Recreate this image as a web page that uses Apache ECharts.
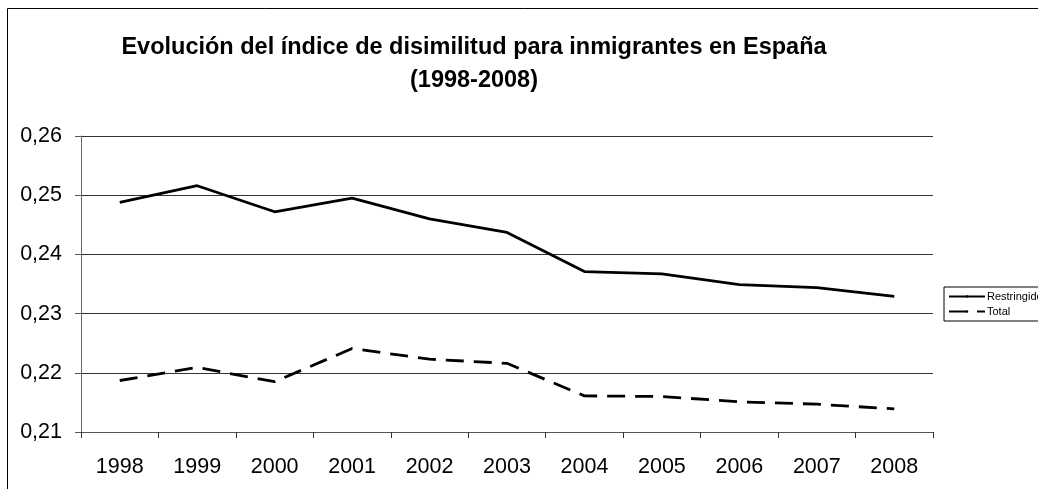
<!DOCTYPE html>
<html>
<head>
<meta charset="utf-8">
<script src="https://cdn.jsdelivr.net/npm/echarts@6/dist/echarts.min.js"></script>
<style>
  html, body { margin: 0; padding: 0; background: #fff; }
  #chart { width: 1038px; height: 489px; }
</style>
</head>
<body>
<div id="chart"></div>
<script>
// Años del periodo analizado
const years = ['1998', '1999', '2000', '2001', '2002', '2003', '2004', '2005', '2006', '2007', '2008'];
// Índice de disimilitud, definición restringida
const restringido = [0.2488, 0.2516, 0.2472, 0.2495, 0.2460, 0.2437, 0.2371, 0.2367, 0.2349, 0.2344, 0.2329];
// Índice de disimilitud, total de inmigrantes
const total = [0.2187, 0.2209, 0.2185, 0.2241, 0.2223, 0.2216, 0.2161, 0.2160, 0.2151, 0.2147, 0.2139];
// Marcas del eje vertical
const yTicks = { min: 0.21, max: 0.26, step: 0.01 };

const FONT = '"Liberation Sans", Arial, sans-serif';
const chart = echarts.init(document.getElementById('chart'), null, { renderer: 'canvas' });

chart.setOption({
  animation: false,
  backgroundColor: '#fff',
  textStyle: { fontFamily: FONT },
  title: {
    text: 'Evolución del índice de disimilitud para inmigrantes en España\n(1998-2008)',
    left: 469,
    textAlign: 'center',
    top: 26,
    textStyle: { fontFamily: FONT, fontSize: 23.5, fontWeight: 'bold', color: '#000', lineHeight: 33 }
  },
  graphic: [{
    type: 'rect',
    shape: { x: 7.5, y: 8.5, width: 1200, height: 1000 },
    style: { fill: 'none', stroke: '#000', lineWidth: 1 },
    silent: true,
    z: 0
  }],
  legend: {
    orient: 'vertical',
    left: 944,
    top: 287,
    padding: [4, 8, 4, 4],
    itemGap: 4,
    itemWidth: 36,
    itemHeight: 3,
    borderColor: '#000',
    borderWidth: 1,
    backgroundColor: '#fff',
    textStyle: { fontFamily: FONT, fontSize: 11, color: '#000', padding: [0, 0, 0, -3] },
    data: ['Restringido', 'Total']
  },
  grid: { left: 81, right: 105, top: 136, bottom: 57, containLabel: false },
  xAxis: {
    type: 'category',
    data: years,
    boundaryGap: true,
    axisLine: { lineStyle: { color: '#555', width: 1 } },
    axisTick: { show: true, length: 6, lineStyle: { color: '#333' } },
    axisLabel: { fontFamily: FONT, fontSize: 21.5, color: '#000', margin: 24 }
  },
  yAxis: {
    type: 'value',
    min: yTicks.min,
    max: yTicks.max,
    interval: yTicks.step,
    axisLine: { show: true, lineStyle: { color: '#666', width: 1 } },
    axisTick: { show: true, length: 6, lineStyle: { color: '#555' } },
    axisLabel: {
      fontFamily: FONT, fontSize: 21.5, color: '#000', margin: 19,
      formatter: v => v.toFixed(2).replace('.', ',')
    },
    splitLine: { show: true, lineStyle: { color: '#333', width: 1 } }
  },
  series: [
    {
      name: 'Restringido',
      type: 'line',
      data: restringido,
      symbol: 'none',
      lineStyle: { color: '#000', width: 2.8 },
      itemStyle: { color: '#000' }
    },
    {
      name: 'Total',
      type: 'line',
      data: total,
      symbol: 'none',
      lineStyle: { color: '#000', width: 2.8, type: [18, 10] },
      itemStyle: { color: '#000' }
    }
  ]
});
</script>
</body>
</html>
